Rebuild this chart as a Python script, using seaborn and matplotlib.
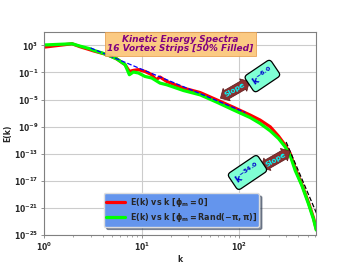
import numpy as np
import pandas as pd
import seaborn as sns
import matplotlib
matplotlib.use('Agg')
import matplotlib.pyplot as plt
from matplotlib.ticker import FixedLocator, NullLocator

# values (k, E(k)) on log-log axes
k_pts = [1.0, 1.94, 2.34, 2.96, 3.2, 4.39, 5.56, 6.76, 7.48, 8.22, 9.25, 10.8, 12.7,
         14.0, 15.4, 18.1, 26.8, 39.7, 58.9, 87.1, 129, 163, 207, 252, 295, 331,
         373, 437, 511, 574, 612]
log_e_zero = [2.75, 3.25, 2.81, 2.36, 2.2, 1.66, 1.01, 0.16, -0.84, -0.69, -0.58, -0.84,
              -1.33, -2.07, -1.67, -2.33, -3.31, -3.97, -5.06, -6.15, -7.30, -8.04,
              -9.04, -10.43, -11.78, -12.97, -15.21, -17.60, -20.28, -22.52, -24.16]
log_e_rand = [3.07, 3.25, 2.90, 2.51, 2.30, 1.66, 1.01, 0.16, -1.33, -0.93, -1.07, -1.58,
              -1.82, -2.2, -2.57, -2.82, -3.67, -4.31, -5.40, -6.55, -7.67, -8.54,
              -9.64, -10.78, -12.03, -13.27, -15.51, -17.75, -20.48, -22.72, -24.31]

# fitted slopes (end points)
fit1_k = [3.0, 115.0]
fit1_e = [4.3e2, 1.2e-7]
fit2_k = [301.0, 617.0]
fit2_e = [5.2e-12, 1.4e-22]

ytick_exp = [3, -1, -5, -9, -13, -17, -21, -25]
xtick_exp = [0, 1, 2]

df = pd.DataFrame({
    'k': k_pts * 2,
    'E': list(10.0 ** np.array(log_e_zero)) + list(10.0 ** np.array(log_e_rand)),
    'case': ['zero'] * len(k_pts) + ['rand'] * len(k_pts),
})

sns.set_style("whitegrid", {'grid.color': '#cccccc', 'axes.edgecolor': '#808080',
                            'xtick.bottom': True, 'ytick.left': True})
plt.rcParams['font.family'] = ['DejaVu Sans']

fig = plt.figure(figsize=(3.52, 2.64), dpi=100)
ax = fig.add_axes([0.125, 0.111, 0.773, 0.768])

sns.lineplot(data=df[df.case == 'zero'], x='k', y='E', color='red', linewidth=2.3,
             label=r'E(k) vs k [$\mathbf{\phi_m = 0}$]', ax=ax, sort=False)
sns.lineplot(data=df[df.case == 'rand'], x='k', y='E', color='#00ff00', linewidth=2.3,
             label=r'E(k) vs k [$\mathbf{\phi_m = Rand(-\pi, \pi)}$]', ax=ax, sort=False)
ax.plot(fit1_k, fit1_e, '--', color='blue', linewidth=0.9)
ax.plot(fit2_k, fit2_e, '--', color='black', linewidth=0.9)

ax.set_xscale('log')
ax.set_yscale('log')
ax.set_xlim(1, 610)
ax.set_ylim(1e-25, 1e5)
ax.yaxis.set_major_locator(FixedLocator([10.0 ** e for e in ytick_exp]))
ax.yaxis.set_minor_locator(NullLocator())
ax.set_yticklabels([r'$\mathbf{10^{%d}}$' % e for e in ytick_exp])
ax.set_xticks([10.0 ** e for e in xtick_exp])
ax.set_xticklabels([r'$\mathbf{10^{%d}}$' % e for e in xtick_exp])
ax.tick_params(axis='both', labelsize=5.5, length=2.5, width=0.6, color='#808080', pad=1.5)
ax.tick_params(axis='x', which='minor', length=1.5, width=0.5, color='#808080')
for s in ax.spines.values():
    s.set_linewidth(0.8)
ax.grid(True, which='major', linewidth=0.8)

ax.set_xlabel('k', fontsize=5.5, fontweight='bold', labelpad=2)
ax.set_ylabel('E(k)', fontsize=5.5, fontweight='bold', labelpad=1)

ax.text(0.502, 0.94, 'Kinetic Energy Spectra\n16 Vortex Strips [50% Filled]',
        transform=ax.transAxes, ha='center', va='center', fontsize=6.5,
        fontweight='bold', fontstyle='italic', color='#800080', linespacing=1.05,
        bbox=dict(boxstyle='square,pad=0.3', facecolor='#fbc77c', edgecolor='#e8a050',
                  linewidth=0.6, alpha=0.95))

# slope annotations
ax.text(90, 2.7e-4, 'Slope', fontsize=5.2, fontweight='bold', color='cyan',
        rotation=30, ha='center', va='center',
        bbox=dict(boxstyle='darrow,pad=0.25', facecolor='#8b2f2f', edgecolor='#5a1a1a',
                  linewidth=0.5))
ax.text(172, 3.0e-2, r'$\mathbf{k^{-6.0}}$', fontsize=6.5, color='#0000cd',
        rotation=34, ha='center', va='center',
        bbox=dict(boxstyle='round,pad=0.4', facecolor='aquamarine', edgecolor='black',
                  linewidth=0.9))
ax.text(235, 1.35e-14, 'Slope', fontsize=5.2, fontweight='bold', color='cyan',
        rotation=30, ha='center', va='center',
        bbox=dict(boxstyle='darrow,pad=0.25', facecolor='#8b2f2f', edgecolor='#5a1a1a',
                  linewidth=0.5))
ax.text(121, 1.6e-16, r'$\mathbf{k^{-34.0}}$', fontsize=6.5, color='#0000cd',
        rotation=34, ha='center', va='center',
        bbox=dict(boxstyle='round,pad=0.4', facecolor='aquamarine', edgecolor='black',
                  linewidth=0.9))

leg = ax.legend(loc='lower center', bbox_to_anchor=(0.505, 0.02),
                prop={'weight': 'bold', 'size': 5.8}, facecolor='cornflowerblue',
                framealpha=1, edgecolor='#dddddd', shadow=True, handlelength=2.3,
                borderpad=0.3, labelspacing=0.3, handletextpad=0.6)

fig.savefig('out.png', dpi=100)
plt.close(fig)
